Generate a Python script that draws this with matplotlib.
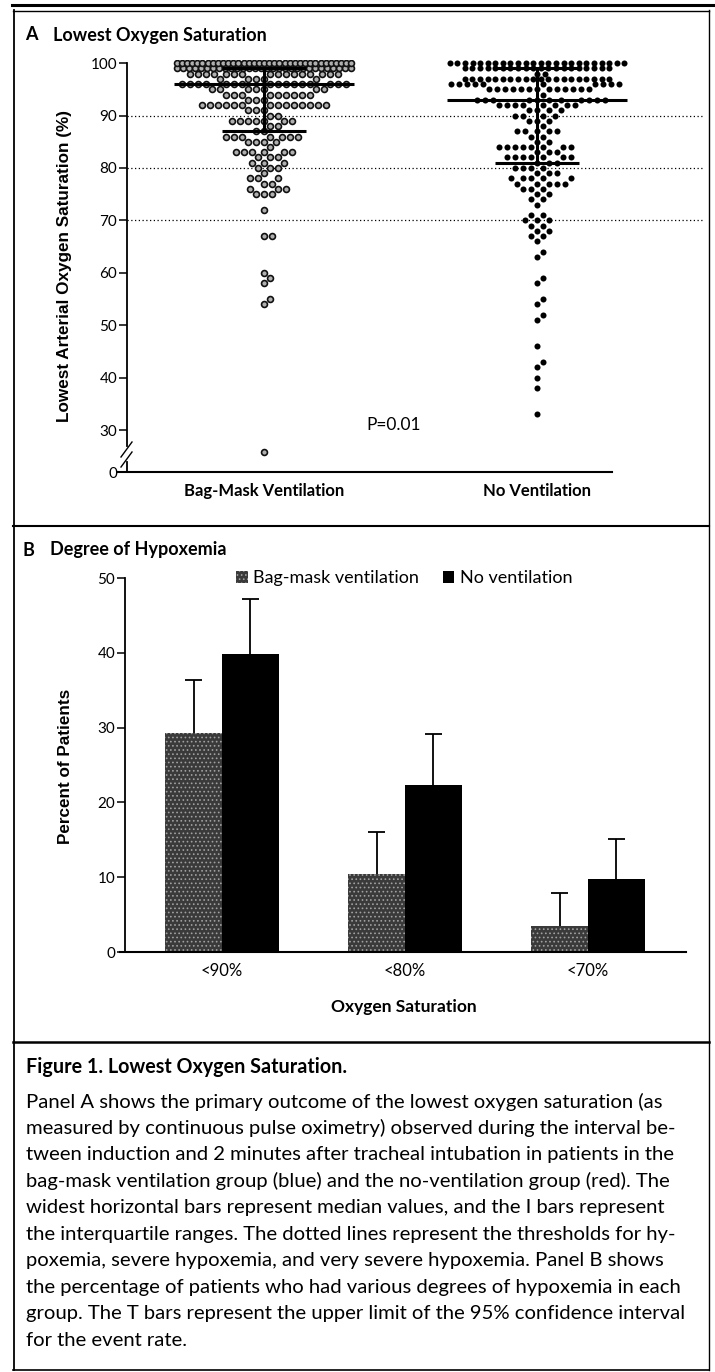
import matplotlib
matplotlib.use('Agg')
import matplotlib.pyplot as plt
import numpy as np
from matplotlib.lines import Line2D

plt.rcParams['font.family'] = ['Lato', 'DejaVu Sans']
plt.rcParams['hatch.linewidth'] = 0.7

W, H = 715, 1372

# ---- panel A data (lowest SpO2, one dot per patient: value -> count)
groups = ['Bag-Mask Ventilation', 'No Ventilation']
bag_vals = [100, 99, 98, 97, 96, 95, 94, 93, 92, 91, 90, 89, 88, 87, 86, 85, 84,
            83, 82, 81, 80, 79, 78, 77, 76, 75, 72, 67, 60, 59, 58, 55, 54, 14]
bag_counts = [35, 30, 16, 5, 16, 7, 9, 3, 14, 3, 2, 7, 2, 2, 7, 4, 1,
              6, 3, 3, 3, 1, 3, 2, 3, 3, 1, 2, 1, 1, 1, 1, 1, 1]
none_vals = [100, 99, 98, 97, 96, 95, 94, 93, 92, 91, 90, 89, 88, 87, 86, 85, 84,
             83, 82, 81, 80, 79, 78, 77, 76, 75, 74, 73, 71, 70, 69, 68, 67, 66,
             64, 63, 59, 58, 55, 54, 52, 51, 46, 43, 42, 40, 38, 33]
none_counts = [24, 20, 2, 20, 10, 13, 1, 11, 8, 4, 4, 3, 1, 5, 2, 2, 8,
               3, 7, 3, 4, 3, 5, 5, 3, 2, 2, 1, 2, 3, 2, 2, 2, 1,
               1, 1, 1, 1, 1, 1, 1, 1, 1, 1, 1, 1, 1, 1]
medians = [96, 93]
q1 = [87, 81]
q3 = [99, 99]
thresholds = [90, 80, 70]
p_label = 'P=0.01'

# ---- panel B data
categories = ['<90%', '<80%', '<70%']
bag_pct = [29.3, 10.4, 3.5]
bag_upper = [36.4, 16.1, 7.9]
none_pct = [39.8, 22.3, 9.7]
none_upper = [47.2, 29.1, 15.1]

caption_title = 'Figure 1. Lowest Oxygen Saturation.'
caption_lines = [
    'Panel A shows the primary outcome of the lowest oxygen saturation (as',
    'measured by continuous pulse oximetry) observed during the interval be-',
    'tween induction and 2 minutes after tracheal intubation in patients in the',
    'bag-mask ventilation group (blue) and the no-ventilation group (red). The',
    'widest horizontal bars represent median values, and the I bars represent',
    'the interquartile ranges. The dotted lines represent the thresholds for hy-',
    'poxemia, severe hypoxemia, and very severe hypoxemia. Panel B shows',
    'the percentage of patients who had various degrees of hypoxemia in each',
    'group. The T bars represent the upper limit of the 95% confidence interval',
    'for the event rate.',
]


def fx(px):
    return px / W


def fy(py):
    return 1 - py / H


# broken y axis: 0-30 squeezed into a short stub
def fwd(v):
    v = np.asarray(v, float)
    return np.where(v >= 30, v, 30 - (30 - v) * 8 / 30)


def inv(d):
    d = np.asarray(d, float)
    return np.where(d >= 30, d, 30 - (30 - d) * 30 / 8)


PX_X = 273.0   # pixels per x unit in panel A
PX_Y = 5.24    # pixels per y unit in panel A


def swarm(vals, counts, dense_n=20, dense_half=0.32, gap=7.6):
    # greedy beeswarm, big tied rows are squeezed into one line
    xs, ys = [], []
    placed = []
    for i in np.argsort(vals):
        v, n = vals[i], counts[i]
        yp = float(fwd(v)) * PX_Y
        if n >= dense_n:
            s = min(gap / PX_X, 2 * dense_half / (n - 1))
            xs.extend((np.arange(n) - (n - 1) / 2) * s)
            ys.extend([v] * n)
            continue
        for _ in range(n):
            done = False
            for k in range(300):
                for c in ([0] if k == 0 else [k, -k]):
                    ok = True
                    for px, py in placed:
                        if (px - c) ** 2 + (py - yp) ** 2 < gap ** 2:
                            ok = False
                            break
                    if ok:
                        placed.append((c, yp))
                        xs.append(c / PX_X)
                        ys.append(v)
                        done = True
                        break
                if done:
                    break
    return np.array(xs), np.array(ys)


fig = plt.figure(figsize=(W / 100, H / 100), dpi=100)

# ================= Panel A
axA = fig.add_axes([fx(127), fy(472), fx(705) - fx(127), fy(60) - fy(472)])
axA.set_yscale('function', functions=(fwd, inv))
axA.set_xlim(-0.502, 1.615)
axA.set_ylim(0, 100.6)

for t in thresholds:
    axA.axhline(t, color='black', lw=0.9, ls=(0, (1, 2)), zorder=1)

bx, by = swarm(bag_vals, bag_counts)
nx, ny = swarm(none_vals, none_counts)
axA.scatter(0 + bx, by, s=18, facecolor='#b0b0b0', edgecolor='#111111',
            linewidth=1.2, zorder=3)
axA.scatter(1 + nx, ny, s=19, color='black', linewidth=0, zorder=3)

gx = np.array([0, 1])
axA.hlines(medians, gx - 0.33, gx + 0.33, color='black', lw=2.2, zorder=4)
axA.hlines(q1, gx - 0.155, gx + 0.155, color='black', lw=2.2, zorder=4)
axA.hlines(q3, gx - 0.155, gx + 0.155, color='black', lw=2.2, zorder=4)
axA.vlines(gx, q1, q3, color='black', lw=2.2, zorder=4)

for s in ['top', 'right']:
    axA.spines[s].set_visible(False)
axA.spines['left'].set_bounds(18.6, 100)
axA.spines['left'].set_linewidth(1.3)
axA.spines['bottom'].set_bounds(-0.535, 1.275)
axA.spines['bottom'].set_linewidth(1.5)
axA.plot([0, 0], [0, 7.1], transform=axA.get_yaxis_transform(),
         color='black', lw=1.3, clip_on=False)


def apx(px, py):
    return (px - 127) / 578, (472 - py) / 412


for (x0, y0), (x1, y1) in [((121, 467), (132, 452)), ((121, 457), (132, 442))]:
    a0, b0 = apx(x0, y0)
    a1, b1 = apx(x1, y1)
    axA.plot([a0, a1], [b0, b1], transform=axA.transAxes, color='black',
             lw=1.0, clip_on=False)

axA.set_yticks([0, 30, 40, 50, 60, 70, 80, 90, 100])
axA.set_yticklabels(['0', '30', '40', '50', '60', '70', '80', '90', '100'])
axA.tick_params(axis='y', direction='out', length=6, width=1.1, labelsize=11, pad=1)
axA.set_xticks(gx)
axA.set_xticklabels(groups, fontsize=12, fontweight='bold')
axA.tick_params(axis='x', length=0, pad=8)
axA.minorticks_off()

# ================= Panel B
axB = fig.add_axes([fx(125), fy(952), fx(686) - fx(125), fy(578) - fy(952)])
x = np.arange(len(categories))
w = 0.31
axB.bar(x - w / 2, bag_pct, w, color='#3a3a3a', hatch='....', edgecolor='#a0a0a0',
        linewidth=0, label='Bag-mask ventilation', zorder=2)
axB.bar(x + w / 2, none_pct, w, color='black', linewidth=0,
        label='No ventilation', zorder=2)
for off, lo, hi in [(-w / 2, bag_pct, bag_upper), (w / 2, none_pct, none_upper)]:
    axB.vlines(x + off, lo, hi, color='black', lw=1.3, zorder=3)
    axB.hlines(hi, x + off - 0.046, x + off + 0.046, color='black', lw=1.3, zorder=3)

axB.set_xlim(-0.53, 2.536)
axB.set_ylim(0, 50)
for s in ['top', 'right']:
    axB.spines[s].set_visible(False)
axB.spines['left'].set_linewidth(1.3)
axB.spines['bottom'].set_linewidth(1.5)
axB.spines['bottom'].set_bounds(-0.557, 2.536)
axB.set_yticks(np.arange(0, 51, 10))
axB.tick_params(axis='y', direction='out', length=6, width=1.1, labelsize=11, pad=1)
axB.set_xticks(x)
axB.set_xticklabels(categories, fontsize=12)
axB.tick_params(axis='x', length=0, pad=8)
axB.legend(loc='center left', bbox_to_anchor=(fx(236), fy(578)),
           bbox_transform=fig.transFigure, ncol=2, frameon=False, fontsize=13,
           handlelength=0.65, handleheight=0.65, handletextpad=0.3,
           columnspacing=1.3, borderpad=0, borderaxespad=0)

# ================= texts
bold = dict(fontweight='bold', va='center')
ylab_font = ['Liberation Sans', 'DejaVu Sans']
fig.text(fx(25), fy(35), 'A', fontsize=13, **bold)
fig.text(fx(53), fy(35), 'Lowest Oxygen Saturation', fontsize=13, **bold)
fig.text(fx(23), fy(550), 'B', fontsize=13, **bold)
fig.text(fx(50), fy(550), 'Degree of Hypoxemia', fontsize=13, **bold)
fig.text(fx(65), fy(266), 'Lowest Arterial Oxygen Saturation (%)', rotation=90,
         ha='center', fontsize=12.3, family=ylab_font, **bold)
fig.text(fx(65), fy(766), 'Percent of Patients', rotation=90, ha='center',
         fontsize=12.3, family=ylab_font, **bold)
fig.text(fx(404), fy(1007), 'Oxygen Saturation', ha='center', fontsize=12.5, **bold)
fig.text(fx(394), fy(425), p_label, ha='center', va='center', fontsize=12.5)

fig.text(fx(26.5), fy(1067), caption_title, fontsize=14.2, **bold)
for i, line in enumerate(caption_lines):
    fig.text(fx(26.5), fy(1101.7 + i * 26.5), line, fontsize=14.6, va='center')

# ================= frame lines
frame = [((12, 5), (715, 5), 2.2), ((13, 10.5), (709, 10.5), 1.0),
         ((13.5, 10), (13.5, 1370), 1.3), ((709, 10), (709, 1370), 1.0),
         ((13, 526), (709, 526), 1.5), ((13, 1042), (709, 1042), 1.8),
         ((13, 1369.5), (709, 1369.5), 1.2)]
for (x0, y0), (x1, y1), lw in frame:
    fig.add_artist(Line2D([fx(x0), fx(x1)], [fy(y0), fy(y1)], color='black', lw=lw))

fig.savefig('out.png', dpi=100)
